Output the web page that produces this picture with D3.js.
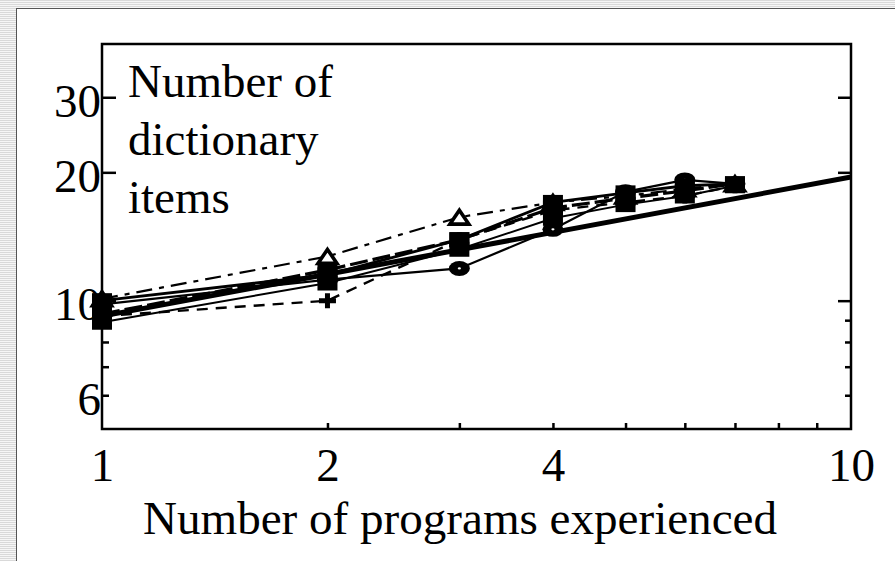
<!DOCTYPE html>
<html>
<head>
<meta charset="utf-8">
<script src="https://cdn.jsdelivr.net/npm/d3@7"></script>
<style>
  html, body { margin: 0; padding: 0; background: #fff; }
  svg { display: block; }
  text { font-family: "Liberation Serif", "Times New Roman", serif; fill: #000; }
</style>
</head>
<body>
<svg id="chart" width="895" height="561"></svg>
<script>
// ---------------- data ----------------
const programs = [1, 2, 3, 4, 5, 6, 7];
const triangleSeries = [10.1, 12.7, 15.7, 17.0, 17.6, 18.3, 18.8];
const dotCircleSeries = [9.8, 11.2, 11.9, 14.7, 18.0, 19.2, 18.8];
const plusSeries = [9.2, 10.0, 13.9, 16.3, 17.0, 17.6, 18.6];
const squareSolidSeries = [10.0, 11.5, 13.9, 17.0, 17.9, 18.6, 18.8];
const squareDashSeries = [9.3, 11.8, 13.9, 16.5, 17.4, 18.1, 18.8];
const squareThinSeries = [8.9, 11.0, 13.2, 15.6, 16.8, 17.6, 18.6];
const fitX = [1, 10];
const fitY = [9.2, 19.5];

const xTickLabels = [1, 2, 4, 10];
const xTicksAll = [2, 3, 4, 5, 6, 7, 8, 9];
const yTicksMajor = [10, 20, 30];
const yTicksMinor = [6, 7, 8, 9];
const yTickLabels = [6, 10, 20, 30];

const xTitle = "Number of programs experienced";
const yTitleLines = ["Number of", "dictionary", "items"];

// ---------------- layout ----------------
const svg = d3.select("#chart");
const W = 895, H = 561;
const L = 102, R = 851, T = 44, B = 429;
const FS = 47;

// slide-like background stripes and frame
const defs = svg.append("defs");
const pat = defs.append("pattern").attr("id", "stripes")
  .attr("width", 4).attr("height", 2).attr("patternUnits", "userSpaceOnUse");
pat.append("rect").attr("width", 4).attr("height", 2).attr("fill", "#f6f6f6");
pat.append("rect").attr("width", 4).attr("height", 1).attr("fill", "#d9d9d9");
svg.append("rect").attr("x", 0).attr("y", 0).attr("width", 16).attr("height", H).attr("fill", "url(#stripes)");
svg.append("rect").attr("x", 0).attr("y", 0).attr("width", W).attr("height", 8).attr("fill", "url(#stripes)");
svg.append("line").attr("x1", 16.5).attr("x2", 16.5).attr("y1", 8).attr("y2", H).attr("stroke", "#555").attr("stroke-width", 1);
svg.append("line").attr("x1", 16).attr("x2", W).attr("y1", 8.5).attr("y2", 8.5).attr("stroke", "#555").attr("stroke-width", 1);

// ---------------- scales ----------------
const x = d3.scaleLog().domain([1, 10]).range([L, R]);
const y = d3.scaleLog().domain([5, 40]).range([B, T]);

// ---------------- axes ----------------
const axW = 2.5;
function styleAxis(g) {
  g.select(".domain").remove();
  g.selectAll(".tick line").attr("stroke", "#000").attr("stroke-width", axW);
  g.selectAll(".tick text").style("font-size", FS + "px").attr("fill", "#000");
}

const gxMinor = svg.append("g").attr("transform", `translate(0,${B})`)
  .call(d3.axisBottom(x).tickValues(xTicksAll).tickSize(-6).tickFormat(""));
styleAxis(gxMinor);
const gxLab = svg.append("g").attr("transform", `translate(0,${B})`)
  .call(d3.axisBottom(x).tickValues(xTickLabels).tickSize(0).tickPadding(19).tickFormat(d3.format("d")));
styleAxis(gxLab);

const gyMaj = svg.append("g").attr("transform", `translate(${L},0)`)
  .call(d3.axisLeft(y).tickValues(yTicksMajor).tickSize(-14).tickFormat(""));
styleAxis(gyMaj);
const gyMin = svg.append("g").attr("transform", `translate(${L},0)`)
  .call(d3.axisLeft(y).tickValues(yTicksMinor).tickSize(-7).tickFormat(""));
styleAxis(gyMin);
const gyLab = svg.append("g").attr("transform", `translate(${L},0)`)
  .call(d3.axisLeft(y).tickValues(yTickLabels).tickSize(0).tickPadding(1).tickFormat(d3.format("d")));
styleAxis(gyLab);
gyLab.selectAll(".tick text").attr("dy", "0.41em");

const gyrMaj = svg.append("g").attr("transform", `translate(${R},0)`)
  .call(d3.axisRight(y).tickValues(yTicksMajor).tickSize(-13).tickFormat(""));
styleAxis(gyrMaj);
const gyrMin = svg.append("g").attr("transform", `translate(${R},0)`)
  .call(d3.axisRight(y).tickValues(yTicksMinor).tickSize(-6).tickFormat(""));
styleAxis(gyrMin);

svg.append("rect").attr("x", L).attr("y", T).attr("width", R - L).attr("height", B - T)
  .attr("fill", "none").attr("stroke", "#000").attr("stroke-width", axW);

// ---------------- series ----------------
const line = d3.line().x(d => x(d[0])).y(d => y(d[1]));
const plot = svg.append("g");

// drawn in this order; later markers cover earlier ones
const seriesDefs = [
  { vals: triangleSeries, dash: "16,7,5,7", w: 2.2, marker: "triangle" },
  { vals: dotCircleSeries, dash: null, w: 2.2, marker: "dotcircle" },
  { vals: plusSeries, dash: "11,8", w: 2.4, marker: "plus" },
  { vals: squareThinSeries, dash: null, w: 2, marker: "square" },
  { vals: squareDashSeries, dash: "18,5", w: 3.2, marker: "square" },
  { vals: squareSolidSeries, dash: null, w: 2.8, marker: "square" }
];

seriesDefs.forEach(s => {
  const pts = programs.map((p, i) => [p, s.vals[i]]);
  plot.append("path").datum(pts).attr("d", line)
    .attr("fill", "none").attr("stroke", "#000").attr("stroke-width", s.w)
    .attr("stroke-dasharray", s.dash);
});

plot.append("path").datum(fitX.map((v, i) => [v, fitY[i]])).attr("d", line)
  .attr("fill", "none").attr("stroke", "#000").attr("stroke-width", 5);

seriesDefs.forEach(s => {
  const pts = programs.map((p, i) => [p, s.vals[i]]);
  const g = plot.append("g");
  pts.forEach(d => {
    const cx = x(d[0]), cy = y(d[1]);
    const m = g.append("g").attr("transform", `translate(${cx},${cy})`);
    if (s.marker === "square") {
      m.append("rect").attr("x", -10).attr("y", -7.5).attr("width", 20).attr("height", 15).attr("fill", "#000");
    } else if (s.marker === "plus") {
      m.append("path").attr("d", "M-8.5,0H8.5M0,-7.5V7.5").attr("stroke", "#000").attr("stroke-width", 5);
    } else if (s.marker === "dotcircle") {
      m.append("ellipse").attr("rx", 10.5).attr("ry", 7.5).attr("fill", "#000");
      m.append("ellipse").attr("rx", 1.6).attr("ry", 1.1).attr("fill", "#fff");
    } else if (s.marker === "triangle") {
      m.append("path").attr("d", "M0,-7L9.5,7H-9.5Z").attr("fill", "#fff")
        .attr("stroke", "#000").attr("stroke-width", 3.6).attr("stroke-linejoin", "miter");
    }
  });
});

// ---------------- titles ----------------
svg.append("text").attr("x", 143).attr("y", 534).style("font-size", FS + "px")
  .attr("textLength", 634).attr("lengthAdjust", "spacingAndGlyphs").text(xTitle);
const ty = svg.append("text").style("font-size", FS + "px");
yTitleLines.forEach((t, i) => {
  ty.append("tspan").attr("x", 128).attr("y", 97 + i * 58).text(t);
});
</script>
</body>
</html>
